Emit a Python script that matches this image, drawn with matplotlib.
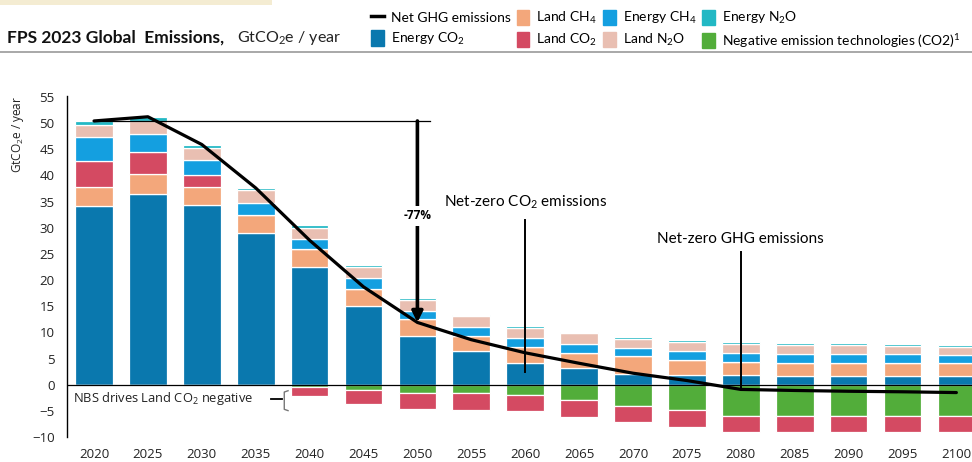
import matplotlib
matplotlib.use("Agg")
import matplotlib.pyplot as plt
from matplotlib.patches import Patch, Rectangle
from matplotlib.lines import Line2D
import numpy as np

plt.rcParams['font.family'] = ['Lato', 'DejaVu Sans']
plt.rcParams['mathtext.default'] = 'regular'

years = [2020, 2025, 2030, 2035, 2040, 2045, 2050, 2055, 2060,
         2065, 2070, 2075, 2080, 2085, 2090, 2095, 2100]
energy_co2 = [34.1, 36.4, 34.3, 28.9, 22.5, 15.1, 9.4, 6.5, 4.2,
              3.2, 2.0, 1.9, 1.8, 1.6, 1.6, 1.6, 1.6]
land_ch4 = [3.7, 3.8, 3.5, 3.6, 3.5, 3.2, 3.1, 2.9, 3.0,
            2.9, 3.4, 2.8, 2.5, 2.5, 2.5, 2.5, 2.5]
land_co2 = [5.0, 4.2, 2.3, 0.0, -1.7, -2.5, -3.2, -3.3, -3.1,
            -3.3, -3.1, -3.2, -3.0, -3.0, -3.0, -3.0, -3.0]
energy_ch4 = [4.6, 3.5, 2.8, 2.3, 1.8, 2.0, 1.6, 1.7, 1.7,
              1.6, 1.6, 1.7, 1.7, 1.7, 1.7, 1.7, 1.6]
land_n2o = [2.2, 2.5, 2.3, 2.5, 2.1, 2.2, 2.1, 2.0, 1.9,
            2.1, 1.8, 1.8, 1.7, 1.7, 1.7, 1.6, 1.5]
energy_n2o = [0.8, 0.7, 0.7, 0.3, 0.6, 0.3, 0.3, 0.3, 0.4,
              0.3, 0.3, 0.3, 0.4, 0.4, 0.4, 0.4, 0.4]
neg_tech = [0.0, 0.0, 0.0, 0.0, -0.5, -1.1, -1.5, -1.6, -1.9,
            -2.9, -4.1, -4.9, -6.0, -6.0, -6.0, -6.0, -6.0]
net_ghg = [50.4, 51.2, 45.9, 37.6, 27.6, 18.7, 11.9, 8.6, 6.1,
           4.1, 2.2, 0.8, -0.9, -1.1, -1.25, -1.35, -1.5]

c_eco2 = '#0a78ae'
c_lch4 = '#f3a77b'
c_lco2 = '#d44a62'
c_ech4 = '#149fe0'
c_ln2o = '#e9bfb2'
c_en2o = '#22b8c4'
c_neg = '#52ad3a'

fig = plt.figure(figsize=(9.72, 4.62), dpi=100)
ax = fig.add_axes([0.069, 0.054, 0.931, 0.738])

x = np.array(years, dtype=float)
w = 3.5
lco2 = np.array(land_co2)
lco2_pos = np.where(lco2 > 0, lco2, 0)
lco2_neg = np.where(lco2 < 0, lco2, 0)

pos = [(energy_co2, c_eco2), (land_ch4, c_lch4), (lco2_pos, c_lco2),
       (energy_ch4, c_ech4), (land_n2o, c_ln2o), (energy_n2o, c_en2o)]
bottom = np.zeros(len(years))
for vals, col in pos:
    vals = np.array(vals)
    ax.bar(x, vals, w, bottom=bottom, color=col, edgecolor='white', linewidth=0.9, zorder=2)
    bottom += vals

nb = np.zeros(len(years))
for vals, col in [(neg_tech, c_neg), (lco2_neg, c_lco2)]:
    vals = np.array(vals)
    ax.bar(x, vals, w, bottom=nb, color=col, edgecolor='white', linewidth=0.9, zorder=2)
    nb += vals

ax.axhline(0, color='black', lw=0.9, zorder=3)
ax.plot(x, net_ghg, color='black', lw=2.3, zorder=5, solid_capstyle='round')

# reference line and -77% arrow
ax.plot([2020, 2051.2], [net_ghg[0], net_ghg[0]], color='black', lw=0.9, zorder=4)
ax.annotate('', xy=(2050, net_ghg[6]), xytext=(2050, net_ghg[0]),
            arrowprops=dict(arrowstyle='-|>', lw=2.6, color='black',
                            mutation_scale=16, shrinkA=0, shrinkB=0), zorder=6)
ax.text(2050, 32.3, '-77%', ha='center', va='center', fontsize=8.5, fontweight='bold',
        family='Open Sans', zorder=7,
        bbox=dict(facecolor='white', edgecolor='none', pad=2.5))

# net-zero markers
ax.text(2060, 34.8, 'Net-zero CO$_2$ emissions', ha='center', va='center', fontsize=11)
ax.plot([2060, 2060], [31.5, 2.5], color='black', lw=1.4, zorder=6)
ax.text(2080, 27.9, 'Net-zero GHG emissions', ha='center', va='center', fontsize=11)
ax.plot([2080, 2080], [25.3, -0.9], color='black', lw=1.4, zorder=6)

# NBS note
ax.text(2018.05, -2.66, 'NBS drives Land CO$_2$ negative', ha='left', va='center',
        fontsize=9.3, family='Open Sans', color='#222222')
ax.plot([2036.45, 2037.45], [-2.66, -2.66], color='black', lw=1.3)
ax.plot([2038.0, 2037.65, 2037.65, 2038.0], [-1.15, -1.4, -4.7, -4.95],
        color='#777777', lw=1.0)

ax.set_xlim(2017.5, 2101.45)
ax.set_ylim(-10, 55.15)
ax.set_xticks(years)
ax.set_yticks(np.arange(-10, 56, 5))
for s in ['top', 'right', 'bottom']:
    ax.spines[s].set_visible(False)
ax.spines['left'].set_linewidth(1.0)
ax.tick_params(axis='both', length=0, labelsize=9.5, colors='#222222')
ax.tick_params(axis='x', pad=8)
ax.tick_params(axis='y', pad=9)
for lab in ax.get_xticklabels() + ax.get_yticklabels():
    lab.set_family('Open Sans')

ax.text(-0.054, 1.0, 'GtCO$_2$e / year', transform=ax.transAxes, rotation=90,
        ha='center', va='top', fontsize=8.5, family='Open Sans', color='#222222')

# header
fig.text(0.007, 0.918, 'FPS 2023 Global  Emissions,', fontsize=12.5, fontweight='bold',
         ha='left', va='center', color='#111111')
fig.text(0.244, 0.918, 'GtCO$_2$e / year', fontsize=11.5, ha='left', va='center',
         color='#222222')
fig.add_artist(Line2D([0, 1], [0.887, 0.887], color='#9a9a9a', lw=1.2,
                      transform=fig.transFigure))
fig.add_artist(Rectangle((0, 0.99), 0.28, 0.01, color='#f4ecd2', lw=0,
                         transform=fig.transFigure))

handles = [Line2D([0], [0], color='black', lw=2.5),
           Patch(color=c_eco2), Patch(color=c_lch4), Patch(color=c_lco2),
           Patch(color=c_ech4), Patch(color=c_ln2o), Patch(color=c_en2o),
           Patch(color=c_neg)]
labels = ['Net GHG emissions', 'Energy CO$_2$', 'Land CH$_4$', 'Land CO$_2$',
          'Energy CH$_4$', 'Land N$_2$O', 'Energy N$_2$O',
          'Negative emission technologies (CO2)$^1$']
fig.legend(handles, labels, ncol=4, loc='upper left', bbox_to_anchor=(0.372, 1.0),
           frameon=False, fontsize=10, handlelength=0.9, handleheight=1.3,
           handletextpad=0.5, columnspacing=0.45, labelspacing=0.4, borderpad=0.2)

fig.savefig('out.png', dpi=100)
